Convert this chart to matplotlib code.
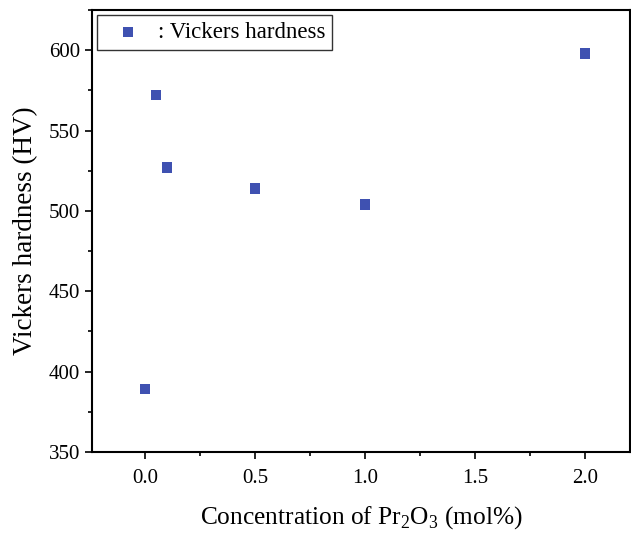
import matplotlib
matplotlib.use("Agg")
import matplotlib.pyplot as plt
from matplotlib.ticker import MultipleLocator

conc = [0.0, 0.05, 0.1, 0.5, 1.0, 2.0]
hardness = [389, 572, 527, 514, 504, 598]

plt.rcParams['font.family'] = ['Liberation Serif', 'DejaVu Serif']
plt.rcParams['mathtext.fontset'] = 'custom'
plt.rcParams['mathtext.rm'] = 'Liberation Serif'

fig = plt.figure(figsize=(6.31, 5.34), dpi=100)
ax = fig.add_axes([92/631, 1-452/534, (630-92)/631, (452-10)/534])
ax.scatter(conc, hardness, marker='s', s=55, color='#3F51B1', edgecolors='none',
           label=': Vickers hardness', zorder=3)
ax.set_xlim(-0.24, 2.205)
ax.set_ylim(350, 625)
ax.xaxis.set_major_locator(MultipleLocator(0.5))
ax.xaxis.set_minor_locator(MultipleLocator(0.25))
ax.yaxis.set_major_locator(MultipleLocator(50))
ax.yaxis.set_minor_locator(MultipleLocator(25))
ax.set_xticks([0, 0.5, 1.0, 1.5, 2.0])
ax.set_xticklabels(['0.0', '0.5', '1.0', '1.5', '2.0'])
ax.tick_params(which='both', direction='out', labelsize=15, width=1.2)
ax.tick_params(axis='x', which='major', pad=7)
ax.tick_params(which='major', length=5)
ax.tick_params(which='minor', length=3)
for s in ax.spines.values():
    s.set_linewidth(1.5)
ax.set_xlabel(r'Concentration of Pr$_2$O$_3$ (mol%)', fontsize=18.3, labelpad=12)
ax.set_ylabel('Vickers hardness (HV)', fontsize=19.5, labelpad=8)
leg = ax.legend(loc='upper left', fontsize=16.5, frameon=True, fancybox=False,
                edgecolor='black', handletextpad=0.25, borderpad=0.3,
                bbox_to_anchor=(0.009, 0.989), borderaxespad=0,
                markerscale=1.0, handlelength=2.1)
leg.get_frame().set_linewidth(1.0)
fig.savefig('out.png', dpi=100)
